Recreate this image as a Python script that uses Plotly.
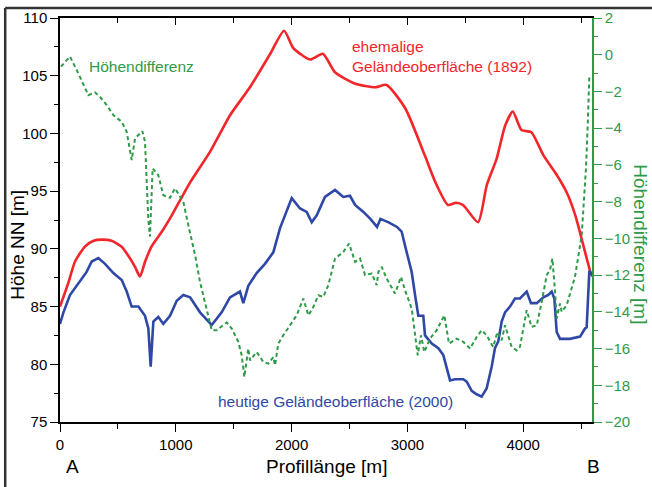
import plotly.graph_objects as go

# Profile distance [m] and elevations
x_1892 = [0, 70, 130, 215, 290, 360, 445, 530, 590, 650, 690, 735, 790, 880, 965, 1120,
          1295, 1470, 1640, 1810, 1935, 2015, 2160, 2270, 2375, 2550, 2720, 2820, 2980,
          3150, 3240, 3350, 3420, 3480, 3610, 3685, 3770, 3845, 3910, 3985, 4070, 4175,
          4290, 4375, 4450, 4580, 4597]
h_1892 = [85.0, 87.0, 88.9, 90.2, 90.7, 90.8, 90.7, 90.2, 89.4, 88.4, 87.6, 88.9, 90.2,
          91.5, 92.9, 95.7, 98.4, 101.6, 104.0, 106.8, 108.9, 107.4, 106.4, 106.9, 105.3,
          104.3, 104.0, 104.2, 102.2, 98.1, 95.8, 93.8, 94.0, 93.8, 92.3, 95.5, 97.8,
          100.7, 101.9, 100.3, 100.1, 98.1, 96.4, 94.9, 92.9, 88.0, 87.6]

x_2000 = [0, 30, 86, 158, 230, 274, 331, 389, 461, 533, 576, 619, 677, 734, 763, 783, 806,
          849, 892, 950, 1008, 1065, 1123, 1209, 1310, 1396, 1468, 1554, 1583, 1626, 1698,
          1770, 1842, 1900, 1943, 2001, 2073, 2130, 2174, 2217, 2288, 2375, 2446, 2504,
          2548, 2620, 2680, 2738, 2767, 2838, 2910, 2950, 2994, 3037, 3066, 3094, 3137,
          3152, 3210, 3267, 3310, 3339, 3368, 3411, 3483, 3512, 3555, 3598, 3641, 3684,
          3728, 3756, 3785, 3814, 3843, 3886, 3929, 3972, 4030, 4067, 4117, 4174, 4217,
          4246, 4269, 4289, 4318, 4404, 4491, 4534, 4548, 4571, 4597]
h_2000 = [83.5, 84.5, 86.0, 87.0, 88.0, 88.9, 89.2, 88.7, 87.9, 87.3, 86.3, 85.0, 85.0,
          84.2, 83.1, 79.8, 83.7, 84.1, 83.5, 84.2, 85.5, 86.0, 85.8, 84.5, 83.4, 84.5,
          85.8, 86.3, 85.3, 86.8, 87.9, 88.7, 89.7, 91.8, 92.9, 94.4, 93.5, 93.2, 92.3,
          92.9, 94.5, 95.1, 94.5, 94.6, 93.8, 93.2, 92.6, 91.9, 92.6, 92.3, 91.9, 91.5,
          89.7, 88.0, 86.0, 84.2, 84.2, 82.5, 81.8, 81.4, 80.8, 79.6, 78.6, 78.7, 78.7,
          78.5, 77.7, 77.4, 77.2, 77.9, 79.8, 81.4, 82.0, 83.7, 84.5, 85.0, 85.7, 85.7,
          86.3, 85.3, 85.3, 85.8, 86.0, 86.3, 85.7, 82.8, 82.2, 82.2, 82.4, 83.1, 83.2,
          88.1, 87.7]

x_diff = [9, 86, 144, 201, 245, 302, 345, 403, 461, 533, 576, 619, 648, 711, 734, 763, 777,
          800, 849, 892, 950, 993, 1065, 1108, 1166, 1209, 1267, 1310, 1353, 1440, 1483,
          1540, 1569, 1592, 1626, 1641, 1698, 1756, 1799, 1842, 1857, 1885, 1928, 1986,
          2044, 2101, 2145, 2188, 2231, 2274, 2317, 2375, 2446, 2496, 2548, 2591, 2634,
          2692, 2735, 2749, 2778, 2821, 2893, 2945, 2979, 3037, 3066, 3089, 3117, 3146,
          3195, 3253, 3319, 3359, 3425, 3483, 3541, 3598, 3641, 3684, 3741, 3777, 3814,
          3843, 3900, 3943, 3972, 4030, 4072, 4117, 4160, 4203, 4231, 4252, 4275, 4289,
          4318, 4332, 4375, 4447, 4505, 4542, 4557, 4571]
d_diff = [-0.65, -0.1, -0.83, -1.56, -2.2, -2.05, -2.29, -2.74, -3.29, -3.65, -4.2, -5.74,
          -4.56, -4.16, -4.74, -9.0, -9.9, -6.19, -6.56, -7.65, -7.79, -7.28, -8.01, -9.28,
          -10.9, -12.37, -13.82, -15.0, -15.0, -14.58, -14.91, -15.64, -16.37, -17.55,
          -16.0, -16.64, -16.19, -16.73, -16.82, -16.46, -16.91, -15.73, -15.28, -14.73,
          -14.19, -13.28, -14.19, -13.73, -13.1, -13.19, -12.55, -11.1, -10.74, -10.28,
          -11.28, -11.1, -12.0, -11.91, -12.55, -11.83, -11.55, -12.19, -13.0, -12.1,
          -12.82, -13.82, -15.09, -16.37, -15.28, -16.19, -15.46, -15.0, -14.19, -15.73,
          -15.46, -15.64, -16.0, -15.37, -15.0, -15.28, -15.91, -15.1, -15.55, -14.73,
          -15.91, -16.1, -15.91, -13.91, -14.82, -14.73, -13.46, -12.0, -11.73, -11.1,
          -12.91, -14.37, -13.55, -14.0, -13.64, -12.1, -9.83, -6.19, -3.83, -1.2]

RED = "#f2262a"
BLUE = "#2f48a6"
GREEN = "#2f9a48"
FONT = "Liberation Sans, Arial, sans-serif"
TICK_SIZE = 15
LABEL_SIZE = 15.5
TITLE_SIZE = 19

fig = go.Figure()
fig.add_trace(go.Scatter(x=x_diff, y=d_diff, mode="lines", yaxis="y2",
                         line=dict(color=GREEN, width=2, dash="4px,3px"), showlegend=False))
fig.add_trace(go.Scatter(x=x_1892, y=h_1892, mode="lines",
                         line=dict(color=RED, width=2.6, shape="spline", smoothing=0.6),
                         showlegend=False))
fig.add_trace(go.Scatter(x=x_2000, y=h_2000, mode="lines",
                         line=dict(color=BLUE, width=2.6), showlegend=False))
# dummy trace to activate xaxis2 (top axis with inward ticks)
fig.add_trace(go.Scatter(x=[None], y=[None], xaxis="x2", showlegend=False, hoverinfo="skip"))

fig.update_layout(
    template="none",
    width=652, height=487,
    margin=dict(l=60, r=60, t=18, b=65, autoexpand=False),
    showlegend=False,
    paper_bgcolor="white", plot_bgcolor="white",
    font=dict(family=FONT, size=TICK_SIZE, color="black"),
    xaxis=dict(range=[0, 4594], showgrid=False, zeroline=False, automargin=False,
               showline=True, linecolor="black", linewidth=1.5,
               tickmode="array", tickvals=[0, 1000, 2000, 3000, 4000],
               ticks="outside", ticklen=8, tickwidth=1.2, tickcolor="black",
               minor=dict(tickvals=[500, 1500, 2500, 3500, 4500], ticks="outside",
                          ticklen=5, tickwidth=1.2, tickcolor="black"),
               tickfont=dict(size=TICK_SIZE)),
    xaxis2=dict(range=[0, 4594], overlaying="x", side="top", showgrid=False,
                zeroline=False, showline=True, linecolor="black", linewidth=1.5,
                automargin=False,
                tickmode="array", tickvals=[1000, 2000, 3000, 4000],
                ticks="inside", ticklen=7, tickwidth=1.2, tickcolor="black",
                minor=dict(tickvals=[500, 1500, 2500, 3500, 4500], ticks="inside",
                           ticklen=5, tickwidth=1.2, tickcolor="black"),
                showticklabels=False),
    yaxis=dict(range=[75, 110], showgrid=False, zeroline=False, automargin=False,
               showline=True, linecolor="black", linewidth=1.5,
               tickmode="array", tickvals=[75, 80, 85, 90, 95, 100, 105, 110],
               ticks="outside", ticklen=8, tickwidth=1.2, tickcolor="black",
               minor=dict(tickvals=[77.5, 82.5, 87.5, 92.5, 97.5, 102.5, 107.5],
                          ticks="outside", ticklen=4, tickwidth=1.2, tickcolor="black"),
               tickfont=dict(size=TICK_SIZE)),
    yaxis2=dict(range=[-20, 2], overlaying="y", side="right", showgrid=False,
                zeroline=False, showline=True, linecolor=GREEN, linewidth=1.5,
                automargin=False,
                tickmode="array", tickvals=list(range(-20, 3, 2)),
                ticks="outside", ticklen=8, tickwidth=1.2, tickcolor=GREEN,
                minor=dict(tickvals=list(range(-19, 2, 2)), ticks="outside",
                           ticklen=4, tickwidth=1.2, tickcolor=GREEN),
                tickfont=dict(size=TICK_SIZE, color=GREEN)),
)

ann = [
    dict(text="Profillänge [m]", x=0.5, y=-0.11, xref="paper", yref="paper",
         xanchor="center", yanchor="middle", font=dict(size=TITLE_SIZE, color="black")),
    dict(text="A", x=0.023, y=-0.11, xref="paper", yref="paper",
         xanchor="center", yanchor="middle", font=dict(size=TITLE_SIZE, color="black")),
    dict(text="B", x=1.003, y=-0.11, xref="paper", yref="paper",
         xanchor="center", yanchor="middle", font=dict(size=TITLE_SIZE, color="black")),
    dict(text="Höhe NN [m]", x=-0.08, y=0.44, xref="paper", yref="paper",
         xanchor="center", yanchor="middle", textangle=-90,
         font=dict(size=TITLE_SIZE, color="black")),
    dict(text="Höhendifferenz [m]", x=1.092, y=0.44, xref="paper", yref="paper",
         xanchor="center", yanchor="middle", textangle=90,
         font=dict(size=TITLE_SIZE, color=GREEN)),
    dict(text="Höhendifferenz", x=230, y=105.8, xref="x", yref="y",
         xanchor="left", yanchor="middle", font=dict(size=LABEL_SIZE, color=GREEN)),
    dict(text="ehemalige<br>Geländeoberfläche (1892)", x=2500, y=106.7, xref="x", yref="y",
         xanchor="left", yanchor="middle", align="left",
         font=dict(size=LABEL_SIZE, color=RED)),
    dict(text="heutige Geländeoberfläche (2000)", x=1350, y=76.8, xref="x", yref="y",
         xanchor="left", yanchor="middle", font=dict(size=LABEL_SIZE, color=BLUE)),
]
fig.update_layout(annotations=[dict(showarrow=False, **a) for a in ann])

# outer frame lines (top and left)
fig.add_shape(type="line", xref="paper", yref="paper", x0=-0.103, x1=1.2, y0=1.025, y1=1.025,
              line=dict(color="#333333", width=2.5))
fig.add_shape(type="line", xref="paper", yref="paper", x0=-0.103, x1=-0.103, y0=1.025, y1=-0.2,
              line=dict(color="#333333", width=2.5))

fig.write_html("out.html", config={"displayModeBar": False},
               post_script="document.body.style.margin='0';document.body.style.overflow='hidden';")
